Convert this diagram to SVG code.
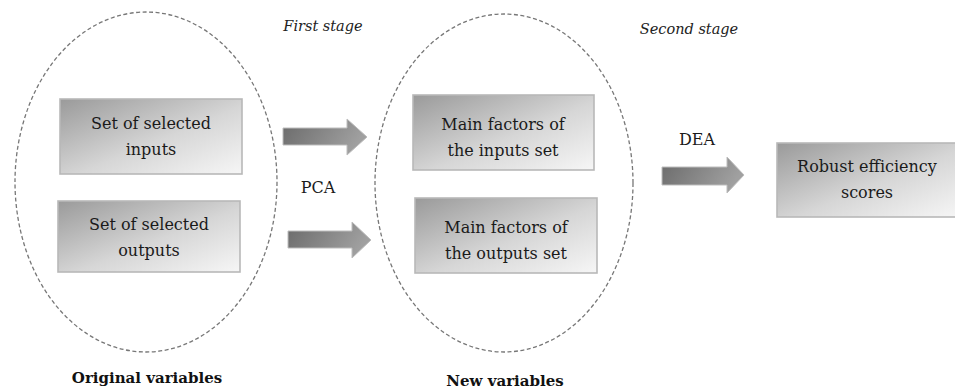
<svg xmlns="http://www.w3.org/2000/svg" width="955" height="391" viewBox="0 0 955 391">
<defs>
<linearGradient id="boxg" x1="0" y1="0" x2="1" y2="1">
<stop offset="0" stop-color="#9a9a9a"/>
<stop offset="0.55" stop-color="#d6d6d6"/>
<stop offset="1" stop-color="#f6f6f6"/>
</linearGradient>
<linearGradient id="arrg" x1="0" y1="0" x2="1" y2="0.3">
<stop offset="0" stop-color="#6a6a6a"/>
<stop offset="1" stop-color="#a0a0a0"/>
</linearGradient>
</defs>
<style>
.ell{fill:none;stroke:#777;stroke-width:1.3;stroke-dasharray:4 2.5}
.box{fill:url(#boxg);stroke:#b8b8b8;stroke-width:1.6}
.arr{fill:url(#arrg);stroke:#bdbdbd;stroke-width:1}
.t{font-family:'DejaVu Serif','Liberation Serif',serif;font-size:16px;fill:#1a1a1a;text-anchor:middle}
.i{font-family:'DejaVu Serif','Liberation Serif',serif;font-size:14.5px;font-style:italic;fill:#222;text-anchor:middle}
.b{font-family:'DejaVu Serif','Liberation Serif',serif;font-size:15px;font-weight:bold;fill:#111;text-anchor:middle}
</style>
<rect width="955" height="391" fill="#fff"/>

<g id="original">
<ellipse class="ell" cx="146" cy="182" rx="131" ry="170"/>
<text class="b" x="147" y="383">Original variables</text>
</g>
<g id="new">
<ellipse class="ell" cx="504" cy="183" rx="129" ry="169"/>
<text class="b" x="505" y="386">New variables</text>
</g>

<g id="inputs">
<rect class="box" x="60" y="99" width="182" height="75"/>
<text class="t" x="151" y="129">Set of selected</text>
<text class="t" x="151" y="155">inputs</text>
</g>
<g id="outputs">
<rect class="box" x="58" y="201" width="182" height="71"/>
<text class="t" x="149" y="230">Set of selected</text>
<text class="t" x="149" y="256">outputs</text>
</g>
<g id="main-inputs">
<rect class="box" x="413" y="95" width="181" height="75"/>
<text class="t" x="503" y="130">Main factors of</text>
<text class="t" x="503" y="156">the inputs set</text>
</g>
<g id="main-outputs">
<rect class="box" x="415" y="198" width="182" height="75"/>
<text class="t" x="506" y="233">Main factors of</text>
<text class="t" x="506" y="259">the outputs set</text>
</g>
<g id="robust">
<rect class="box" x="777" y="143" width="182" height="74"/>
<text class="t" x="867" y="172">Robust efficiency</text>
<text class="t" x="867" y="198">scores</text>
</g>

<g id="connectors">
<path class="arr" d="M283,128 H347 V119 L367,137 L347,155 V145 H283 Z"/>
<path class="arr" d="M288,231 H352 V222 L371,240 L352,258 V248 H288 Z"/>
<path class="arr" d="M662,167 H727 V157 L744,175 L727,193 V185 H662 Z"/>
</g>

<g id="labels">
<text class="i" x="323" y="31">First stage</text>
<text class="t" x="318" y="193">PCA</text>
<text class="i" x="689" y="34">Second stage</text>
<text class="t" x="697" y="145">DEA</text>
</g>
</svg>
